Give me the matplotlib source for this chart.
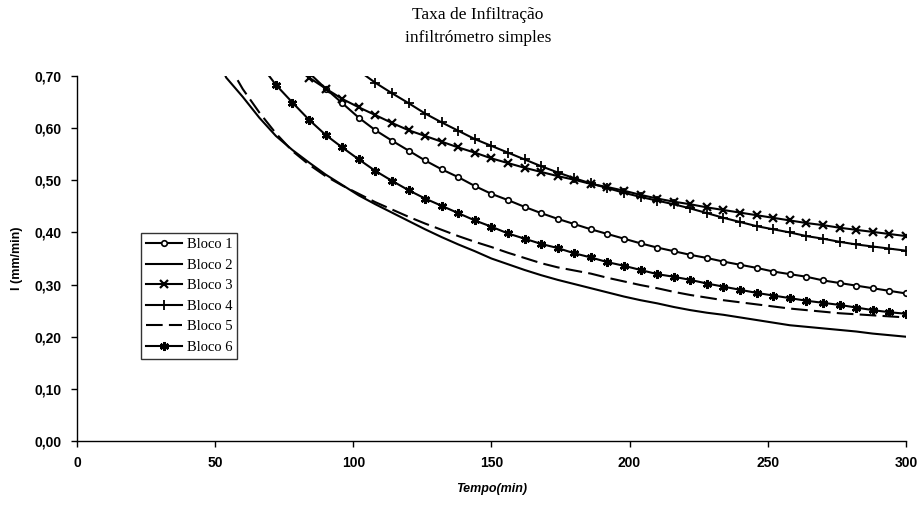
import matplotlib
matplotlib.use("Agg")
import matplotlib.pyplot as plt
from matplotlib.ticker import FuncFormatter

# time axis (min), one reading every 6 minutes
tempo = [48, 54, 60, 66, 72, 78, 84, 90, 96, 102, 108, 114, 120, 126, 132, 138, 144, 150,
         156, 162, 168, 174, 180, 186, 192, 198, 204, 210, 216, 222, 228, 234, 240, 246,
         252, 258, 264, 270, 276, 282, 288, 294, 300]

# values (mm/min); None = above the plotted range
bloco1 = [None, None, None, None, None, None, 0.706, 0.676, 0.648, 0.620, 0.596, 0.576,
          0.557, 0.538, 0.521, 0.506, 0.489, 0.474, 0.462, 0.449, 0.437, 0.426, 0.416,
          0.406, 0.397, 0.388, 0.379, 0.371, 0.364, 0.357, 0.351, 0.344, 0.338, 0.332,
          0.325, 0.320, 0.315, 0.308, 0.303, 0.298, 0.293, 0.288, 0.283]
bloco2 = [0.770, 0.697, 0.660, 0.620, 0.585, 0.558, 0.534, 0.511, 0.491, 0.471, 0.454,
          0.438, 0.422, 0.406, 0.391, 0.377, 0.364, 0.350, 0.339, 0.328, 0.318, 0.309,
          0.301, 0.293, 0.285, 0.277, 0.270, 0.264, 0.257, 0.251, 0.246, 0.242, 0.237,
          0.232, 0.227, 0.222, 0.219, 0.216, 0.213, 0.210, 0.206, 0.203, 0.200]
bloco3 = [None, None, None, None, None, 0.720, 0.697, 0.676, 0.656, 0.640, 0.625, 0.610,
          0.596, 0.585, 0.574, 0.563, 0.553, 0.542, 0.533, 0.524, 0.516, 0.508, 0.501,
          0.493, 0.487, 0.480, 0.472, 0.465, 0.459, 0.454, 0.448, 0.443, 0.438, 0.433,
          0.428, 0.423, 0.418, 0.414, 0.409, 0.405, 0.401, 0.397, 0.393]
bloco4 = [None, None, None, None, None, None, None, None, None, 0.710, 0.687, 0.667,
          0.648, 0.628, 0.611, 0.595, 0.579, 0.566, 0.553, 0.540, 0.527, 0.515, 0.504,
          0.494, 0.485, 0.476, 0.468, 0.461, 0.454, 0.446, 0.437, 0.428, 0.420, 0.412,
          0.406, 0.400, 0.393, 0.388, 0.382, 0.377, 0.373, 0.369, 0.365]
bloco5 = [None, 0.730, 0.675, 0.630, 0.590, 0.556, 0.530, 0.508, 0.490, 0.474, 0.458,
          0.444, 0.430, 0.417, 0.405, 0.393, 0.382, 0.372, 0.361, 0.351, 0.341, 0.333,
          0.327, 0.321, 0.313, 0.306, 0.299, 0.293, 0.286, 0.280, 0.275, 0.270, 0.266,
          0.262, 0.258, 0.254, 0.251, 0.248, 0.245, 0.243, 0.241, 0.239, 0.237]
bloco6 = [None, None, None, 0.725, 0.683, 0.649, 0.616, 0.587, 0.563, 0.540, 0.518,
          0.499, 0.481, 0.465, 0.451, 0.437, 0.423, 0.411, 0.398, 0.388, 0.378, 0.370,
          0.360, 0.352, 0.343, 0.336, 0.328, 0.320, 0.315, 0.309, 0.302, 0.296, 0.290,
          0.284, 0.279, 0.274, 0.269, 0.265, 0.261, 0.256, 0.251, 0.247, 0.244]

labels = ["Bloco 1", "Bloco 2", "Bloco 3", "Bloco 4", "Bloco 5", "Bloco 6"]

serif = "Liberation Serif"
sans = "Liberation Sans"


def pairs(values):
    xs = [t for t, v in zip(tempo, values) if v is not None]
    ys = [v for v in values if v is not None]
    return xs, ys


fig = plt.figure(figsize=(9.23, 5.08), dpi=100)
ax = fig.add_axes([0.0834, 0.1319, 0.898, 0.7185])

lw = 1.5
styles = [
    dict(marker="o", markersize=4, markerfacecolor="white", markeredgewidth=1.2),
    dict(marker=None),
    dict(marker="x", markersize=5.5, markeredgewidth=1.6),
    dict(marker="+", markersize=6.5, markeredgewidth=1.3),
    dict(marker=None, dashes=(8, 3)),
    dict(marker=(6, 2, 0), markersize=6.5, markeredgewidth=1.8),
]
series = [bloco1, bloco2, bloco3, bloco4, bloco5, bloco6]
for vals, lab, st in zip(series, labels, styles):
    xs, ys = pairs(vals)
    ax.plot(xs, ys, color="black", lw=lw, label=lab, **st)

ax.set_xlim(0, 300)
ax.set_ylim(0, 0.70)
ax.set_xticks(range(0, 301, 50))
ax.set_yticks([i / 10 for i in range(8)])
ax.yaxis.set_major_formatter(FuncFormatter(lambda v, p: f"{v:.2f}".replace(".", ",")))

for s in ["top", "right"]:
    ax.spines[s].set_visible(False)
for s in ["left", "bottom"]:
    ax.spines[s].set_linewidth(1.0)

ax.tick_params(direction="out", length=4, width=1, labelsize=10, pad=7)
for lbl in ax.get_xticklabels() + ax.get_yticklabels():
    lbl.set_fontfamily(sans)
    lbl.set_fontweight("bold")

ax.set_xlabel("Tempo(min)", fontfamily=sans, fontweight="bold", fontstyle="italic",
              fontsize=9, labelpad=9)
ax.set_ylabel("I (mm/min)", fontfamily=sans, fontweight="bold", fontsize=9, labelpad=8)

fig.text(0.518, 0.970, "Taxa de Infiltração", ha="center", va="center",
         fontfamily=serif, fontsize=12.5)
fig.text(0.518, 0.926, "infiltrómetro simples", ha="center", va="center",
         fontfamily=serif, fontsize=12.5)

leg = ax.legend(loc="upper left", bbox_to_anchor=(0.077, 0.570), frameon=True,
                fancybox=False, edgecolor="black", prop={"family": serif, "size": 10.5},
                handlelength=2.5, handletextpad=0.3, labelspacing=0.5,
                borderpad=0.35, borderaxespad=0)
leg.get_frame().set_linewidth(1.0)

fig.savefig("out.png", dpi=100, facecolor="white")
